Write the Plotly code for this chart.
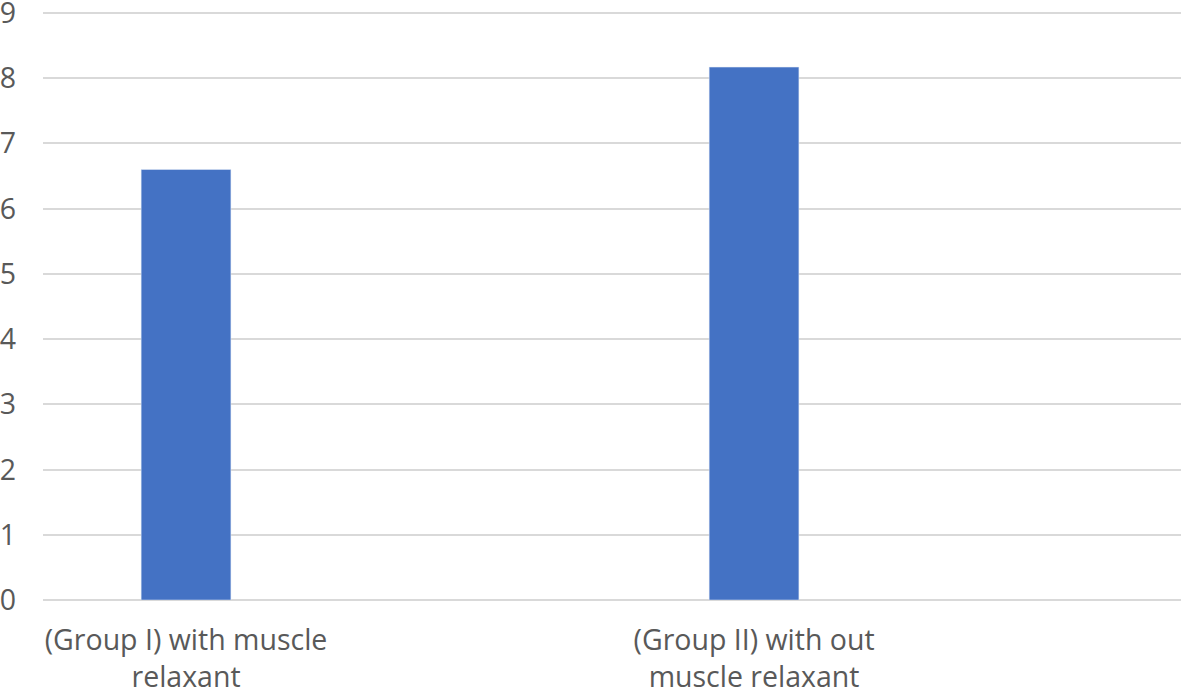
import plotly.graph_objects as go

categories = ["(Group I) with muscle<br>relaxant", "(Group II) with out<br>muscle relaxant"]
values = [6.6, 8.17]
y_ticks = list(range(0, 10))

fig = go.Figure()
fig.add_trace(go.Bar(x=categories, y=values, marker_color="#4472C4", width=0.158))

fig.update_layout(
    width=1181, height=688,
    margin=dict(l=43, r=0, t=11, b=88),
    plot_bgcolor="white", paper_bgcolor="white",
    font=dict(family="Open Sans", size=28.5, color="#595959"),
    showlegend=False,
)
fig.update_xaxes(range=[-0.2518, 1.7517], showgrid=False, showline=False, ticks="", tickangle=0,
                 automargin=False, ticklabelstandoff=20, ticklabeloverflow="allow")
fig.update_yaxes(range=[0, 9.03], tickvals=y_ticks, showgrid=True, gridcolor="#d9d9d9", gridwidth=2,
                 zeroline=True, zerolinecolor="#d9d9d9", zerolinewidth=2, ticklabelstandoff=26,
                 showline=False, automargin=False, ticklabeloverflow="allow")

# drop the default page margin so the figure sits at the window's corner
fig.write_html("out.html", config={"displayModeBar": False},
               post_script="document.body.style.margin='0';document.body.style.overflow='hidden';")
